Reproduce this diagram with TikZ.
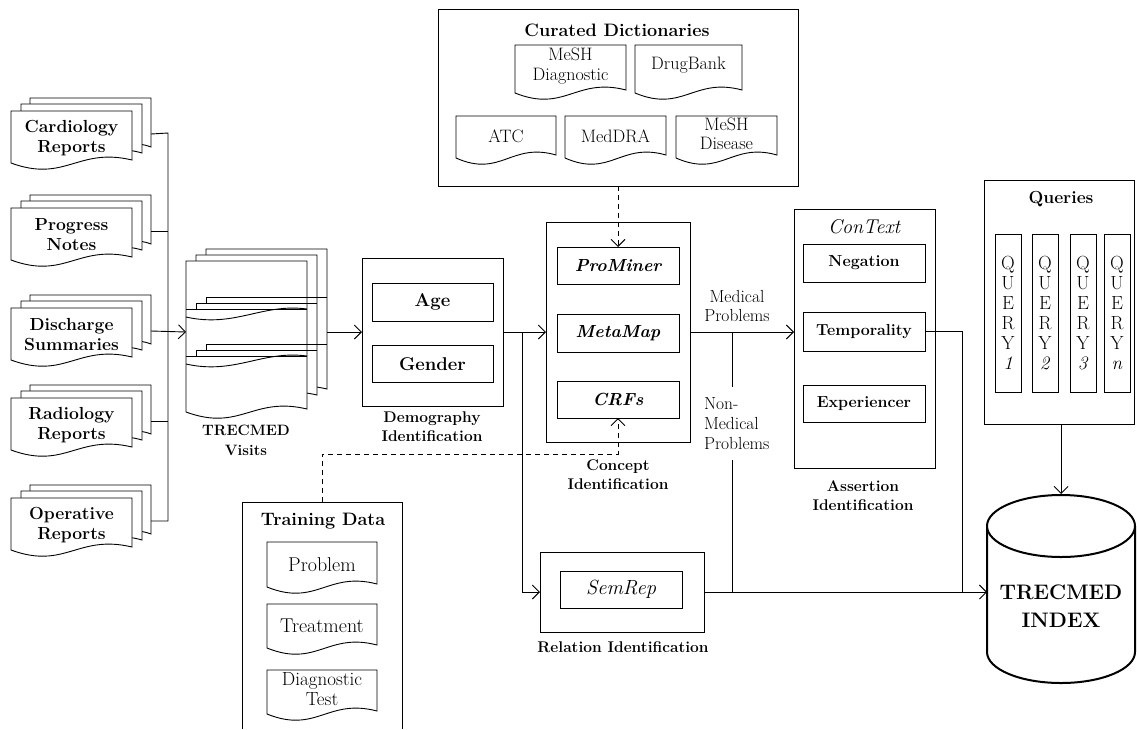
\documentclass[tikz,border=0pt]{standalone}
\usepackage{fontspec}
\usetikzlibrary{arrows.meta,calc}
\newcommand{\fs}[2]{\fontsize{#1}{#2}\selectfont}
% document shape: x1, y1, x2, yb (bottom-left)
\newcommand{\docshape}[4]{%
  \draw[fill=white] ({#1},{#2}) -- ({#3},{#2}) -- ({#3},{#4-3})
    .. controls ({#1+0.55*(#3-#1)},{#4-16}) and ({#1+0.45*(#3-#1)},{#4+20}) .. ({#1},{#4}) -- cycle;}
% multi-document: name, x1, y1, text
\newcommand{\mdoc}[4]{%
  \docshape{#2+19}{#3-13}{#2+140}{#3+39}
  \docshape{#2+10}{#3-7}{#2+131}{#3+45}
  \docshape{#2}{#3}{#2+121}{#3+52}
  \node[mdtext] (#1) at ({#2+60.5},{#3+27}) {#4};
  \coordinate (#1-r) at ({#2+140},{#3+23});}
% single document with text: name, x1, y1, x2, yb, text y, font, text
\newcommand{\sdoc}[8]{%
  \docshape{#2}{#3}{#4}{#5}
  \node[align=center,font=#7] (#1) at ({(#2+#4)/2},{#6}) {#8};}
\begin{document}
\begin{tikzpicture}[x=1pt,y=-1pt,line width=0.9pt,
  >={Straight Barb[length=7pt,width=14pt]},
  every node/.style={inner sep=0pt,outer sep=0pt},
  box/.style={draw,fill=white},
  mdtext/.style={align=center,font=\fs{17.5}{20}\bfseries},
  lbl/.style={align=center,font=\fs{15.5}{19}\bfseries},
  inbold/.style={box,font=\fs{18.5}{20}\bfseries},
  inbi/.style={box,font=\fs{17.5}{20}\bfseries\itshape},
  inctx/.style={box,font=\fs{16}{20}\bfseries},
  qbox/.style={box,minimum width=26,minimum height=158,align=center,font=\fs{19}{20}},
  dashline/.style={dash pattern=on 5pt off 4pt}]
\useasboundingbox (0,0) rectangle (1137,729);

% ---------- left report stacks ----------
\mdoc{cardio}{11}{111}{Cardiology\\Reports}
\mdoc{prog}{11}{208}{Progress\\Notes}
\mdoc{disc}{11}{308}{Discharge\\Summaries}
\mdoc{radio}{11}{398}{Radiology\\Reports}
\mdoc{oper}{11}{498}{Operative\\Reports}

% ---------- TRECMED visits ----------
\docshape{206}{249}{327}{392}
\docshape{196}{255}{317}{398}
\docshape{186}{261}{307}{412}
\draw (206,297) -- (327,297);
\draw (206,297) -- (206,303);
\draw (196,303) -- (317,303);
\draw (196,303) -- (196,309);
\draw (186,309) -- (307,309);
\draw (186,317) .. controls (235,328) and (262,303) .. (307,309);
\draw (206,344) -- (327,344);
\draw (206,344) -- (206,350);
\draw (196,350) -- (317,350);
\draw (196,350) -- (196,356);
\draw (186,356) -- (307,356);
\draw (186,364) .. controls (235,375) and (262,350) .. (307,356);
\coordinate (visits-in) at (186,332);
\coordinate (visits-out) at (327,332);
\node[lbl,font=\fs{15}{20}\bfseries] (visitslbl) at (246,440) {TRECMED\\Visits};

% ---------- demography ----------
\node[box,minimum width=141,minimum height=148] (demo) at (432.5,332) {};
\node[inbold,minimum width=121,minimum height=38] (age) at (432.5,302) {Age};
\node[inbold,minimum width=121,minimum height=37] (gender) at (432.5,364) {Gender};
\node[lbl] (demolbl) at (432,427) {Demography\\Identification};

% ---------- concept ----------
\node[box,minimum width=144,minimum height=220] (concept) at (618,332) {};
\node[inbi,minimum width=122,minimum height=37] (prominer) at (618,265.5) {ProMiner};
\node[inbi,minimum width=122,minimum height=38] (metamap) at (618,333) {MetaMap};
\node[inbi,minimum width=122,minimum height=37] (crfs) at (618,399.5) {CRFs};
\node[lbl] (conceptlbl) at (618,475) {Concept\\Identification};

% ---------- curated dictionaries ----------
\node[box,minimum width=360,minimum height=177] (dict) at (618,97.5) {};
\node[font=\fs{18}{20}\bfseries] (dicttitle) at (617,30) {Curated Dictionaries};
\sdoc{meshdiag}{515}{45}{626}{93}{66}{\fs{18}{20}}{MeSH\\Diagnostic}
\sdoc{drugbank}{635}{45}{742}{93}{65}{\fs{18}{20}}{DrugBank}
\sdoc{atc}{456}{116}{556}{158}{136}{\fs{18}{20}}{ATC}
\sdoc{meddra}{565}{116}{666}{158}{136}{\fs{18}{20}}{MedDRA}
\sdoc{meshdis}{676}{116}{777}{158}{134}{\fs{18}{19}}{MeSH\\Disease}

% ---------- ConText ----------
\node[box,minimum width=141,minimum height=259] (context) at (864.5,338.5) {};
\node[font=\fs{20}{20}\itshape] (contitle) at (864,227) {ConText};
\node[inctx,minimum width=122,minimum height=38] (negation) at (864,263) {Negation};
\node[inctx,minimum width=122,minimum height=39] (temporality) at (864,331.5) {Temporality};
\node[inctx,minimum width=122,minimum height=37] (experiencer) at (864,403.5) {Experiencer};
\node[lbl] (assertlbl) at (863,496) {Assertion\\Identification};

% ---------- relation ----------
\node[box,minimum width=164,minimum height=80] (rel) at (622,592) {};
\node[box,minimum width=122,minimum height=37,font=\fs{20.5}{20}\itshape] (semrep) at (621,589.5) {SemRep};
\node[lbl] (rellbl) at (623,647) {Relation Identification};

% ---------- training data ----------
\draw (242,729) -- (242,502) -- (402,502) -- (402,729);
\coordinate (train-top) at (322,502);
\node[font=\fs{18}{20}\bfseries] (traintitle) at (323,521) {Training Data};
\sdoc{problem}{267}{542}{377}{587}{565}{\fs{20}{20}}{Problem}
\sdoc{treatment}{267}{604}{377}{648}{626}{\fs{20}{20}}{Treatment}
\sdoc{diagtest}{267}{670}{377}{714}{689}{\fs{19}{20}}{Diagnostic\\Test}

% ---------- queries ----------
\node[box,minimum width=150,minimum height=244] (queries) at (1059,302) {};
\node[font=\fs{17.5}{20}\bfseries] (qtitle) at (1061,199) {Queries};
\node[qbox] (q1) at (1008,313) {Q\\U\\E\\R\\Y\\\textit{1}};
\node[qbox] (q2) at (1045,313) {Q\\U\\E\\R\\Y\\\textit{2}};
\node[qbox] (q3) at (1083,313) {Q\\U\\E\\R\\Y\\\textit{3}};
\node[qbox] (qn) at (1117,313) {Q\\U\\E\\R\\Y\\\textit{n}};

% ---------- index cylinder ----------
\fill[white] (987,526) -- (987,652) arc[start angle=180,end angle=0,x radius=74,y radius=31] -- (1135,526) -- cycle;
\draw[line width=2pt] (987,526) -- (987,652) arc[start angle=180,end angle=0,x radius=74,y radius=31] -- (1135,526);
\draw[line width=2pt,fill=white] (1061,526) ellipse [x radius=74,y radius=31];
\node[align=center,font=\fs{21}{28}\bfseries] (index) at (1061,606) {TRECMED\\INDEX};
\coordinate (cyl-in) at (987,592);
\coordinate (cyl-top) at (1061,494);

% ---------- labels ----------
\node[align=center,font=\fs{17.5}{19}] (medlbl) at (737,306) {Medical\\Problems};
\node[align=left,anchor=west,font=\fs{17.5}{20}] (nonmedlbl) at (704,424) {Non-\\Medical\\Problems};

% ---------- connectors ----------
\draw (cardio-r) -- (168,133) |- (oper-r);
\draw (prog-r) -- (prog-r -| 168,0);
\draw (radio-r) -- (radio-r -| 168,0);
\draw[->] (disc-r) -- (visits-in);
\draw[->] (visits-out) -- (visits-out -| demo.west);
\draw[->] (demo.east) -- (concept.west);
\coordinate (br1) at (522,332);
\draw[->] (br1) |- (rel.west);
\draw[->] (concept.east) -- (concept.east -| context.west);
\coordinate (br2) at (732,332);
\coordinate (nm1) at (732,387);
\coordinate (nm2) at (732,460);
\coordinate (nm3) at (732,592);
\draw (br2) -- (nm1);
\draw (nm2) -- (nm3);
\draw[->] (rel.east) -- (cyl-in);
\coordinate (tbend) at (962,331.5);
\draw (temporality.east) -- (tbend) -- (tbend |- cyl-in);
\draw[->,dashline] (dict.south) -- (prominer.north);
\coordinate (dbend) at (618,454);
\draw[->,dashline] (train-top) |- (dbend) -- (crfs.south);
\draw[->] (queries.south -| cyl-top) -- (cyl-top);
\end{tikzpicture}
\end{document}
